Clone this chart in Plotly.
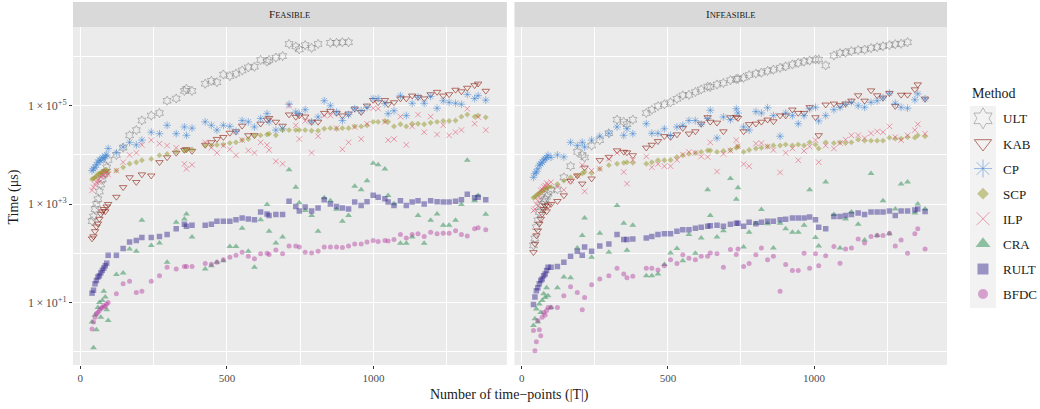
import plotly.graph_objects as go

# ---------------- data (time in microseconds) ----------------
methods = ["ULT", "KAB", "CP", "SCP", "ILP", "CRA", "RULT", "BFDC"]
panels = ["Feasible", "Infeasible"]
x_ticks = [0, 500, 1000]
y_ticks = [1e1, 1e3, 1e5]
y_tick_labels = ["1\u2009×\u200910<sup>+1</sup>", "1\u2009×\u200910<sup>+3</sup>", "1\u2009×\u200910<sup>+5</sup>"]

x_feas = [40, 45, 50, 55, 60, 65, 70, 75, 80, 85, 90,
          95, 123, 146, 168, 191, 210, 242, 270, 296, 327, 355, 362, 381,
          426, 447, 466, 488, 510, 531, 552, 573, 594, 615,
          637, 644, 667, 690, 712, 735, 747, 767, 789, 811,
          832, 853, 874, 894, 915, 936, 958, 978, 999, 1016,
          1039, 1050, 1070, 1092, 1112, 1132, 1152, 1173, 1195, 1217,
          1238, 1258, 1280, 1300, 1320, 1345, 1357, 1383]

ult_feas = [450, 560, 790, 1000, 1260, 1800, 2500, 3200, 4000, 4500, 5600,
            7900, 1.0e4, 1.4e4, 2.5e4, 3.2e4, 5.0e4, 6.3e4, 7.1e4, 1.26e5, 1.4e5, 2.0e5, 2.2e5, 2.0e5,
            2.8e5, 3.2e5, 3.0e5, 4.3e5, 4.0e5, 4.5e5, 5.2e5, 6.0e5, 6.2e5, 8.5e5,
            7.9e5, 8.5e5, 9.5e5, 1.02e6, 1.8e6, 1.6e6, 1.4e6, 1.7e6, 1.5e6, 1.8e6,
            None, 1.9e6, 1.9e6, 1.95e6, 1.95e6, None, None, None, None, None,
            None, None, None, None, None, None, None, None, None, None,
            None, None, None, None, None, None, None, None]
kab_feas = [200, 220, 280, 350, 400, 500, 630, 710, 790, 710, 890,
            1000, 1400, 2200, 3500, 2800, 4000, 3800, 7100, 8900, 1.1e4, 1.26e4, 1.3e4, 1.2e4,
            1.6e4, 1.8e4, 2.1e4, 2.3e4, 2.8e4, 3.0e4, 3.9e4, 2.5e4, 2.5e4, 4.3e4,
            5.2e4, 5.6e4, 4.7e4, 3.9e4, 6.6e4, 5.9e4, 6.3e4, 6.0e4, 4.7e4, 4.7e4,
            7.1e4, 7.8e4, 7.1e4, 6.3e4, 6.9e4, 8.7e4, 7.4e4, 1.0e5, 1.3e5, 1.17e5,
            1.3e5, 1.07e5, 1.17e5, 1.4e5, 1.4e5, 1.6e5, 1.5e5, 1.4e5, 1.7e5, 1.9e5,
            1.6e5, 1.7e5, 2.1e5, 1.95e5, 2.3e5, 2.6e5, 2.8e5, 2.0e5]
cp_feas = [4800, 5200, 5600, 6300, 7100, 7900, 7600, 8900, 8300, 9500, 1.0e4,
           1.35e4, 1.1e4, 1.45e4, 1.8e4, 1.6e4, 2.0e4, 2.9e4, 2.7e4, 4.0e4, 2.7e4, 3.7e4, 2.5e4, 3.5e4,
           4.7e4, 4.0e4, 3.2e4, 4.0e4, 3.8e4, 3.0e4, 5.0e4, 4.7e4, 3.7e4, 5.5e4,
           6.9e4, 4.7e4, 3.2e4, 3.4e4, 1.07e5, 7.4e4, 6.9e4, 8.3e4, 4.7e4, 5.9e4,
           1.26e5, 1.0e5, 7.4e4, 5.0e4, 6.6e4, 8.7e4, 7.9e4, 9.3e4, 1.4e5, 1.4e5,
           1.1e5, 6.9e4, 7.9e4, 1.6e5, 6.3e4, 1.12e5, 1.5e5, 1.12e5, 1.55e5, 8.9e4,
           1.26e5, 1.17e5, 1.12e5, 1.07e5, 1.7e5, 1.4e5, 1.6e5, 1.3e5]
scp_feas = [3200, 3300, 3500, 3700, 4000, 4200, 4300, 4500, 4600, 4800, 5000,
            4500, 4800, 5600, 6600, 7100, 7800, 8300, 9800, 1.05e4, 1.15e4, 1.23e4, 1.26e4, 1.29e4,
            1.55e4, 1.55e4, 1.6e4, 1.62e4, 1.74e4, 1.8e4, 2.0e4, 2.1e4, 2.5e4, 2.5e4,
            2.6e4, 2.7e4, 2.5e4, 3.2e4, 3.2e4, 3.2e4, 3.2e4, 3.2e4, 3.1e4, 3.1e4,
            3.4e4, 3.5e4, 3.4e4, 3.5e4, 3.5e4, 3.8e4, 3.8e4, 4.0e4, 4.7e4, 4.7e4,
            4.9e4, 4.7e4, 3.8e4, 4.2e4, 3.8e4, 4.3e4, 4.3e4, 4.2e4, 4.5e4, 4.7e4,
            4.9e4, 4.9e4, 5.0e4, 6.0e4, 6.6e4, 6.0e4, 6.3e4, 5.8e4]
ilp_feas = [1900, 2200, 2500, 2800, 3200, 2800, 3500, 4000, 3800, 4200, 4500,
            4000, 4800, 7100, 1.0e4, 1.1e4, 1.6e4, 2.0e4, 1.7e4, 1.55e4, 1.4e4, 6600, 5200, 6300,
            1.8e4, 1.4e4, 1.1e4, 1.55e4, 1.3e4, 9800, 2.0e4, 1.23e4, 1.1e4, 1.8e4,
            1.6e4, 1.26e4, 7400, 6600, 1.0e5, 4.0e4, 2.1e4, 4.9e4, 1.1e4, 2.4e4,
            6.3e4, 6.3e4, 3.5e4, 1.3e4, 1.8e4, 3.7e4, 2.1e4, 4.3e4, 8.9e4, 8.7e4,
            4.7e4, 2.0e4, 2.1e4, 6.0e4, 1.6e4, 3.8e4, 6.6e4, 2.9e4, 6.0e4, 2.6e4,
            4.0e4, 2.5e4, 2.9e4, 3.2e4, 8.7e4, 4.3e4, 5.9e4, 3.2e4]
cra_feas = [4.0, 1.2, 5.6, 2.8, 7.9, 10, 5.0, 11, 17, 13, 7.1,
            4.3, 37, 40, 123, 110, 470, 145, 162, 66, 430, 500, 630, 214,
            48, 56, 66, 71, 138, 138, 324, 110, 52, 480,
            980, 282, 162, 214, 5000, 2200, 1070, 740, 590, 282,
            1350, 1170, 790, 450, 590, 2300, 1950, 3000, 6800, 6300,
            5200, 1500, 1020, 160, 160, 214, 590, 160, 470, 630,
            370, 370, 470, 980, 7800, 1170, 1500, 620]
rult_feas = [15.5, 17.8, 24, 28, 33, 35, 40, 45, 50, 56, 63,
             91, 91, 126, 170, 182, 209, 209, 219, 240, 316, 389, 355, 372,
             372, 389, 447, 447, 447, 479, 525, 501, 479, 692,
             631, 589, 617, 617, 1150, 891, 724, 871, 724, 832,
             1230, 1000, 891, 832, 794, 1100, 933, 1120, 1510, 1380,
             1290, 1100, 933, 1170, 933, 1100, 1170, 1000, 1170, 1120,
             1100, 1100, 1150, 1230, 1580, 1350, 1380, 1230]
bfdc_feas = [2.9, 4.0, 5.0, 5.9, 6.3, 6.9, 7.6, 7.9, 8.7, 8.3, 9.3,
             10, 15, 24, 27, 16, 17, 27, 35, 52, 48, 54, 54, 54,
             62, 60, 66, 74, 83, 91, 105, 87, 78, 98,
             100, 95, 117, 98, 141, 141, 135, 105, 102, 110,
             135, 135, 135, 132, 141, 155, 155, 170, 182, 174,
             182, 178, 191, 240, 204, 240, 251, 219, 269, 251,
             257, 257, 288, 240, 224, 316, 331, 302]

x_infeas = [40, 45, 50, 55, 60, 65, 70, 75, 80, 85, 90,
            100, 122, 144, 167, 190, 207, 215, 239, 267, 298, 326, 349, 360, 380,
            426, 445, 466, 488, 509, 531, 551, 572, 594, 614,
            636, 645, 668, 690, 714, 734, 740, 759, 778, 801,
            820, 841, 861, 884, 903, 926, 946, 966, 985, 1005,
            1016, 1040, 1068, 1089, 1108, 1128, 1151, 1173, 1195, 1216,
            1236, 1258, 1278, 1298, 1320, 1345, 1355, 1380]

ult_infeas = [145, 200, 340, 470, 690, 870, 1000, 1170, 1260, 1410, 1620,
              1900, 2000, 3500, 5900, 1.15e4, 1.0e4, 8900, 1.55e4, 2.0e4, 2.75e4, 5.2e4, 4.7e4, 4.2e4, 5.2e4,
              7.1e4, 8.3e4, 9.8e4, 1.07e5, 1.17e5, 1.38e5, 1.62e5, 1.66e5, 1.9e5, 2.14e5,
              2.45e5, 2.4e5, 2.7e5, 2.9e5, 3.3e5, 3.5e5, 3.5e5, 3.7e5, 4.2e5, 4.5e5,
              4.7e5, 5.1e5, 5.4e5, 5.9e5, 6.3e5, 6.9e5, 7.4e5, 7.9e5, 8.3e5, 8.7e5,
              8.7e5, 6.6e5, 1.05e6, 1.17e6, 1.2e6, 1.29e6, 1.35e6, 1.38e6, 1.48e6, 1.55e6,
              1.62e6, 1.7e6, 1.78e6, 1.82e6, 1.95e6, None, None, None]
kab_infeas = [105, 155, 230, 290, 400, 500, 630, 790, 930, 710, 930,
              1000, 1150, 1500, 2950, 3800, 2600, 5500, 3300, 7800, 9100, 1.23e4, 1.15e4, 1.12e4, 9800,
              1.4e4, 1.6e4, 1.9e4, 2.4e4, 2.3e4, 2.6e4, 3.5e4, 2.7e4, 3.0e4, 4.3e4,
              5.8e4, 4.7e4, 4.5e4, 3.0e4, 5.8e4, 5.9e4, 5.6e4, 3.0e4, 4.2e4, 4.3e4,
              4.7e4, 5.2e4, 4.8e4, 6.3e4, 6.3e4, 8.3e4, 7.1e4, 7.1e4, 9.3e4, 5.8e4,
              2.5e4, 1.05e5, 1.1e5, 1.02e5, 1.1e5, 1.26e5, 1.62e5, 1.26e5, 2.04e5, 1.62e5,
              1.45e5, 1.8e5, 9.8e4, 1.66e5, 1.66e5, 2.14e5, 2.7e5, 1.38e5]
cp_infeas = [3500, 4200, 4500, 5200, 6200, 6600, 7100, 7900, 8300, 8900, 9800,
             8900, 1.0e4, 9100, 1.8e4, 1.55e4, 1.8e4, 1.45e4, 2.0e4, 2.4e4, 2.75e4, 3.7e4, 2.5e4, 3.4e4, 2.7e4,
             4.3e4, 2.75e4, 2.75e4, 3.4e4, 2.5e4, 3.7e4, 4.0e4, 5.0e4, 5.0e4, 4.2e4,
             5.5e4, 8.1e4, 2.2e4, 5.9e4, 5.2e4, 8.7e4, 7.1e4, 3.7e4, 3.2e4, 7.6e4,
             7.1e4, 9.1e4, 6.3e4, 2.4e4, 7.1e4, 6.3e4, 4.3e4, 6.3e4, 8.7e4, 9.3e4,
             4.9e4, 6.3e4, 8.3e4, 9.3e4, 1.07e5, 1.17e5, 1.0e5, 9.3e4, 1.17e5, 1.26e5,
             1.45e5, 1.8e5, 1.12e5, 9.3e4, 8.9e4, 1.32e5, 1.74e5, 1.38e5]
scp_infeas = [1350, 1400, 1500, 1600, 1660, 1740, 1820, 1950, 2040, 2140, 2240,
              2240, 2570, 3000, 3500, 3800, 4200, 4500, 4300, 5200, 6200, 6600, 6900, 7100, 6900,
              6600, 7100, 7800, 7800, 7900, 9100, 9800, 1.05e4, 1.1e4, 1.15e4,
              1.23e4, 1.23e4, 1.15e4, 1.2e4, 1.26e4, 1.4e4, 1.48e4, 1.15e4, 1.26e4, 1.35e4,
              1.4e4, 1.48e4, 1.55e4, 1.55e4, 1.62e4, 1.55e4, 1.62e4, 1.55e4, 1.8e4, 1.62e4,
              1.35e4, 1.8e4, 1.74e4, 1.8e4, 1.74e4, 1.8e4, 2.04e4, 1.95e4, 1.95e4, 1.95e4,
              1.95e4, 2.24e4, 2.14e4, 2.14e4, 2.3e4, 2.24e4, 2.5e4, 2.4e4]
ilp_infeas = [740, 790, 1000, 1170, 1400, 1900, 2000, 2240, 2400, 2700, 2500,
              2800, 2240, 1950, 3000, 3800, 6200, 1820, 4800, 5200, 8300, 1.1e4, 4500, 2600, 7900,
              9300, 5600, 6500, 5900, 5900, 7900, 1.02e4, 1.15e4, 1.1e4, 9300,
              9100, 1.8e4, 4600, 1.05e4, 1.23e4, 2.0e4, 1.5e4, 6500, 5900, 1.7e4,
              1.74e4, 1.48e4, 1.26e4, 4400, 1.1e4, 1.35e4, 7800, 1.2e4, 1.48e4, 2.0e4,
              7100, 1.55e4, 1.35e4, 1.74e4, 2.04e4, 2.5e4, 2.5e4, 2.2e4, 2.75e4, 3.0e4,
              2.9e4, 3.8e4, 2.3e4, 2.0e4, 2.5e4, 3.2e4, 4.2e4, 2.7e4]
cra_infeas = [3.4, 4.7, 7.4, 4.0, 9.3, 6.3, 11, 15, 12.6, 20, 13.8,
              7.9, 20, 33, 32, 129, 229, 525, 83, 257, 105, 933, 407, 115, 372,
              35, 35, 38, 59, 102, 126, 71, 240, 100, 204,
              1950, 589, 214, 288, 3300, 1260, 2140, 135, 269, 407,
              776, 398, 129, 407, 316, 269, 269, 372, 1950, 209,
              141, 2800, 617, 129, 501, 692, 389, 186, 4200, 229,
              1170, 251, 794, 2570, 2800, 661, 1000, 794]
rult_infeas = [9.1, 12.9, 17.4, 20, 24, 28, 30, 35, 38, 45, 52,
               52, 54, 66, 87, 110, 91, 135, 110, 141, 155, 240, 191, 191, 195,
               204, 219, 240, 251, 251, 282, 302, 302, 324, 339,
               355, 363, 372, 355, 389, 407, 407, 355, 427, 398,
               427, 447, 447, 479, 490, 525, 525, 525, 550, 479,
               339, 316, 562, 562, 589, 617, 661, 617, 692, 692,
               692, 724, 589, 724, 724, 759, 794, 708]
bfdc_infeas = [2.7, 1.05, 1.6, 4.3, 2.8, 2.1, 5.0, 6.3, 5.6, 6.9, 7.9,
               7.9, 7.9, 13.8, 21, 16, 7.1, 12.6, 23, 30, 35, 50, 38, 32, 34,
               50, 50, 46, 56, 74, 62, 93, 79, 74, 87,
               87, 102, 98, 52, 120, 95, 123, 54, 62, 93,
               129, 74, 87, 17, 59, 45, 45, 100, 50, 98,
               56, 89, 138, 63, 123, 129, 195, 162, 219, 229,
               229, 257, 141, 186, 100, 251, 316, 123]

values = {
    "Feasible": {"ULT": ult_feas, "KAB": kab_feas, "CP": cp_feas, "SCP": scp_feas,
                 "ILP": ilp_feas, "CRA": cra_feas, "RULT": rult_feas, "BFDC": bfdc_feas},
    "Infeasible": {"ULT": ult_infeas, "KAB": kab_infeas, "CP": cp_infeas, "SCP": scp_infeas,
                   "ILP": ilp_infeas, "CRA": cra_infeas, "RULT": rult_infeas, "BFDC": bfdc_infeas},
}
xs = {"Feasible": x_feas, "Infeasible": x_infeas}

# ---------------- styles ----------------
style = {
    "ULT":  dict(symbol="hexagram-open", color="rgba(110,110,110,0.45)", size=7, lsize=16, lw=1.0),
    "KAB":  dict(symbol="triangle-down-open", color="rgba(140,30,15,0.6)", size=6.5, lsize=15, lw=1.0),
    "CP":   dict(symbol="asterisk-open", color="rgba(60,130,210,0.5)", size=6.5, lsize=15, lw=1.0),
    "SCP":  dict(symbol="diamond", color="rgba(150,150,40,0.5)", size=4.5, lsize=9, lw=0),
    "ILP":  dict(symbol="x-thin-open", color="rgba(225,80,110,0.55)", size=5.5, lsize=13, lw=1.0),
    "CRA":  dict(symbol="triangle-up", color="rgba(40,140,80,0.5)", size=6, lsize=13, lw=0),
    "RULT": dict(symbol="square", color="rgba(45,30,140,0.45)", size=5.5, lsize=11, lw=0),
    "BFDC": dict(symbol="circle", color="rgba(180,60,160,0.45)", size=5, lsize=10, lw=0),
}

FONT = "Liberation Serif"
fig = go.Figure()

for pi, panel in enumerate(panels):
    xa = "x" if pi == 0 else "x2"
    ya = "y" if pi == 0 else "y2"
    for m in methods:
        s = style[m]
        fig.add_trace(go.Scatter(
            x=xs[panel], y=values[panel][m], mode="markers", xaxis=xa, yaxis=ya,
            name=m, legendgroup=m, showlegend=False,
            marker=dict(symbol=s["symbol"], size=s["size"], color=s["color"],
                        line=dict(width=s["lw"], color=s["color"])),
        ))

for m in methods:
    s = style[m]
    fig.add_trace(go.Scatter(
        x=[None], y=[None], mode="markers", name=m, legendgroup=m, showlegend=True,
        marker=dict(symbol=s["symbol"], size=s["lsize"], color=s["color"],
                    line=dict(width=s["lw"], color=s["color"])),
    ))

dom_l = [0, 0.4964]
dom_r = [0.5051, 1]
xcommon = dict(range=[-25, 1455], tickvals=x_ticks, ticks="outside", ticklen=3,
               tickcolor="#333333", tickfont=dict(family=FONT, size=11, color="#4d4d4d"),
               showgrid=True, gridcolor="white", gridwidth=1.1, zeroline=False,
               showline=False,
               minor=dict(tickvals=[250, 750, 1250], showgrid=True, gridcolor="white",
                          gridwidth=0.5, ticks=""))
ycommon = dict(type="log", range=[-0.27, 6.6], tickvals=y_ticks, ticktext=y_tick_labels,
               ticks="outside", ticklen=3, tickcolor="#333333",
               tickfont=dict(family=FONT, size=12, color="#4d4d4d"),
               showgrid=True, gridcolor="white", gridwidth=1.1, zeroline=False,
               showline=False,
               minor=dict(tickvals=[1, 100, 1e4, 1e6], showgrid=True, gridcolor="white",
                          gridwidth=0.5, ticks=""))

fig.update_layout(
    width=1040, height=409,
    margin=dict(l=73, r=93, t=27, b=44, autoexpand=False),
    paper_bgcolor="white", plot_bgcolor="#ebebeb",
    font=dict(family=FONT, color="#1a1a1a"),
    xaxis=dict(domain=dom_l, anchor="y", **xcommon),
    xaxis2=dict(domain=dom_r, anchor="y2", **xcommon),
    yaxis=dict(anchor="x", **ycommon),
    yaxis2=dict(anchor="x2", matches="y", **{**ycommon, "showticklabels": False, "ticks": ""}),
    showlegend=True,
    legend=dict(x=1.0183, xanchor="left", y=0.774, yanchor="top",
                bgcolor="rgba(0,0,0,0)", borderwidth=0,
                font=dict(family=FONT, size=13, color="#1a1a1a"),
                tracegroupgap=5.2, itemclick=False),
)

# facet strips and legend key background
strip_top = (365 - 2) / 338
shapes = [
    dict(type="rect", xref="paper", yref="paper", x0=dom_l[0], x1=dom_l[1], y0=1.0, y1=strip_top,
         fillcolor="#d9d9d9", line=dict(width=0), layer="below"),
    dict(type="rect", xref="paper", yref="paper", x0=dom_r[0], x1=dom_r[1], y0=1.0, y1=strip_top,
         fillcolor="#d9d9d9", line=dict(width=0), layer="below"),
    dict(type="rect", xref="paper", yref="paper", x0=1.0263, x1=1.056, y0=0.1686, y1=0.766,
         fillcolor="#f2f2f2", line=dict(width=0), layer="below"),
]
fig.update_layout(shapes=shapes)


def small_caps(word):
    return word[0] + '<span style="font-size:8.5px">' + word[1:].upper() + "</span>"


annotations = []
for dom, panel in zip([dom_l, dom_r], panels):
    annotations.append(dict(text=small_caps(panel), xref="paper", yref="paper",
                            x=(dom[0] + dom[1]) / 2, y=(1 + strip_top) / 2,
                            xanchor="center", yanchor="middle", showarrow=False,
                            font=dict(family=FONT, size=11, color="#1a1a1a")))
annotations.append(dict(text="Number of time−points (|T|)", xref="paper", yref="paper",
                        x=(509 - 73) / 874, y=(365 - 395) / 338, xanchor="center",
                        yanchor="middle", showarrow=False,
                        font=dict(family=FONT, size=14, color="#1a1a1a")))
annotations.append(dict(text="Time (μs)", xref="paper", yref="paper",
                        x=(13.5 - 73) / 874, y=(365 - 197) / 338, xanchor="center",
                        yanchor="middle", textangle=-90, showarrow=False,
                        font=dict(family=FONT, size=14, color="#1a1a1a")))
annotations.append(dict(text="Method", xref="paper", yref="paper",
                        x=(970 - 73) / 874, y=(365 - 93) / 338, xanchor="left",
                        yanchor="middle", showarrow=False,
                        font=dict(family=FONT, size=14, color="#1a1a1a")))
fig.update_layout(annotations=annotations)

fig.write_html("out.html", config={"displayModeBar": False},
               post_script="document.body.style.margin='0px';")
